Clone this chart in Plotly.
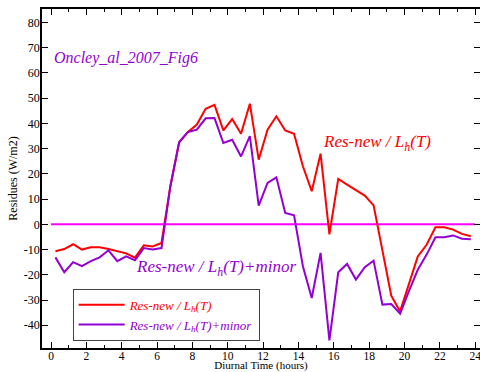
import plotly.graph_objects as go

hours = [0.25, 0.75, 1.25, 1.75, 2.25, 2.75, 3.25, 3.75, 4.25, 4.75, 5.25, 5.75,
         6.25, 6.75, 7.25, 7.75, 8.25, 8.75, 9.25, 9.75, 10.25, 10.75, 11.25, 11.75,
         12.25, 12.75, 13.25, 13.75, 14.25, 14.75, 15.25, 15.75, 16.25, 16.75, 17.25, 17.75,
         18.25, 18.75, 19.25, 19.75, 20.25, 20.75, 21.25, 21.75, 22.25, 22.75, 23.25, 23.75]

res_new = [-10.7, -9.8, -7.9, -10.0, -9.1, -9.1, -9.8, -10.7, -11.5, -13.2, -8.3, -8.8,
           -7.4, 15.0, 32.5, 36.6, 39.5, 45.8, 47.3, 37.2, 41.7, 35.9, 47.8, 25.6,
           37.5, 42.8, 37.2, 35.9, 23.0, 13.1, 28.0, -4.0, 18.0, 15.7, 13.5, 11.4,
           7.5, -10.0, -28.3, -34.5, -23.2, -12.7, -8.1, -1.2, -1.2, -2.1, -3.8, -4.7]

res_new_minor = [-13.1, -19.0, -15.0, -16.6, -14.6, -13.1, -10.3, -14.6, -12.7, -14.2, -9.4, -10.0,
                 -9.4, 15.0, 32.5, 36.6, 37.5, 42.0, 42.1, 32.2, 33.5, 26.9, 34.9, 7.4,
                 16.4, 18.6, 4.5, 3.6, -16.6, -29.2, -11.3, -46.0, -19.0, -15.7, -21.9, -17.0,
                 -14.4, -31.8, -31.6, -35.4, -26.5, -18.0, -12.0, -5.1, -5.1, -4.4, -5.7, -5.9]

zero_x = [0, 24]
zero_y = [0, 0]

x_ticks = [0, 2, 4, 6, 8, 10, 12, 14, 16, 18, 20, 22, 24]
y_ticks = [-40, -30, -20, -10, 0, 10, 20, 30, 40, 50, 60, 70, 80]
y_ticktext = ["-40", "-30", "-20", "-10", "0", "10", "20", "30", "40", "50", "60", "70", "80"]

RED = "#ff0000"
PURPLE = "#9400d3"
MAGENTA = "#ff00ff"
SERIF = "Liberation Serif"

fig = go.Figure()
fig.add_trace(go.Scatter(x=zero_x, y=zero_y, mode="lines",
                         line=dict(color=MAGENTA, width=2), showlegend=False,
                         hoverinfo="skip"))
fig.add_trace(go.Scatter(x=hours, y=res_new, mode="lines",
                         line=dict(color=RED, width=2),
                         name='<span style="color:#ff0000"><i>Res-new / L<sub>h</sub>(T)</i></span>'))
fig.add_trace(go.Scatter(x=hours, y=res_new_minor, mode="lines",
                         line=dict(color=PURPLE, width=2),
                         name='<span style="color:#9400d3"><i>Res-new / L<sub>h</sub>(T)+minor</i></span>'))

axis_common = dict(showline=True, linecolor="black", linewidth=1.5, mirror="allticks",
                   ticks="inside", tickcolor="black", showgrid=False, zeroline=False,
                   automargin=False, ticklabeloverflow="allow")

fig.update_layout(
    width=480, height=372,
    margin=dict(l=42, r=0, t=9, b=24),
    paper_bgcolor="white", plot_bgcolor="white",
    font=dict(family=SERIF),
    xaxis=dict(range=[-0.51, 24.27], tickvals=x_ticks, ticklen=6, tickwidth=1.2,
               ticklabelstandoff=-4,
               tickfont=dict(family=SERIF, size=11.5, color="black"),
               minor=dict(dtick=1, ticklen=3, ticks="inside", tickcolor="black", tickwidth=1.2),
               title=dict(text="Diurnal Time (hours)", font=dict(family=SERIF, size=11, color="black"),
                          standoff=9),
               **axis_common),
    yaxis=dict(range=[-49, 85.3], tickvals=y_ticks, ticktext=y_ticktext, ticklen=6, tickwidth=1.2,
               ticklabelstandoff=-2,
               tickfont=dict(family=SERIF, size=12, color="black"),
               title=dict(text="Residues (W/m2)", font=dict(family=SERIF, size=12, color="black"),
                          standoff=4),
               **axis_common),
    legend=dict(x=0.07, y=0.175, xanchor="left", yanchor="top",
                bordercolor="#444444", borderwidth=1, bgcolor="white",
                font=dict(family=SERIF, size=13), itemwidth=46,
                tracegroupgap=0),
    annotations=[
        dict(x=0.04, y=66, xref="x", yref="y", xanchor="left", yanchor="middle",
             text="<i>Oncley_al_2007_Fig6</i>", showarrow=False,
             font=dict(family=SERIF, size=16, color=PURPLE)),
        dict(x=15.27, y=32.2, xref="x", yref="y", xanchor="left", yanchor="middle",
             text="<i>Res-new / L<sub>h</sub>(T)</i>", showarrow=False,
             font=dict(family=SERIF, size=17, color=RED)),
        dict(x=4.67, y=-17.2, xref="x", yref="y", xanchor="left", yanchor="middle",
             text="<i>Res-new / L<sub>h</sub>(T)+minor</i>", showarrow=False,
             font=dict(family=SERIF, size=17, color=PURPLE)),
    ],
)

fig.write_html("out.html")
